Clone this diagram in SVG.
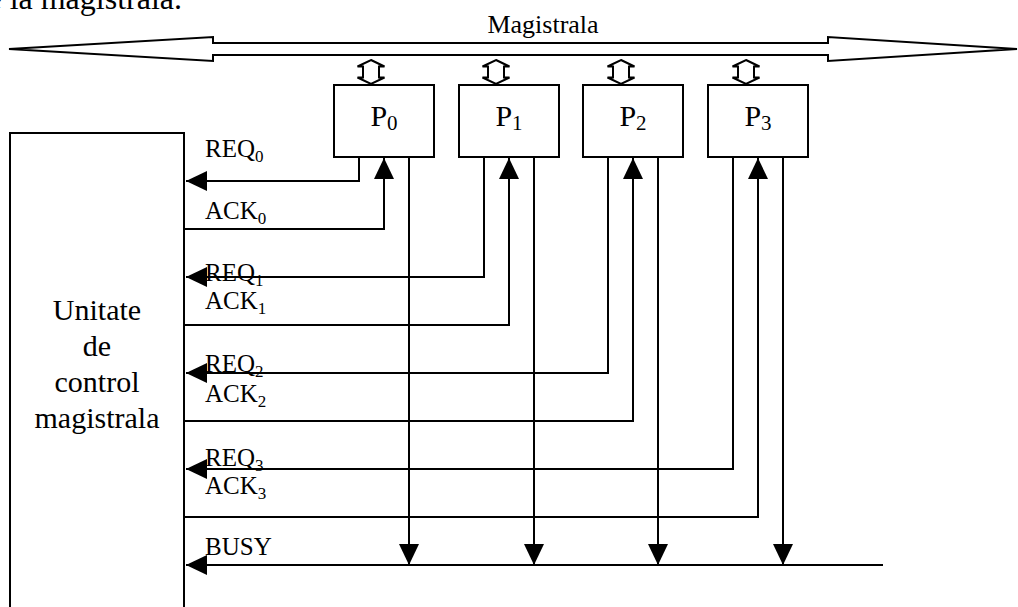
<svg xmlns="http://www.w3.org/2000/svg" width="1018" height="607" viewBox="0 0 1018 607">
<style>
  .ln { fill: none; stroke: #000; stroke-width: 2; }
  .box { fill: #fff; stroke: #000; stroke-width: 2; }
  .hollow { fill: #fff; stroke: #000; stroke-width: 2; stroke-linejoin: miter; }
  text { font-family: "Liberation Serif", "Times New Roman", serif; fill: #000; }
  .lbl { font-size: 25px; }
  .sub { font-size: 17px; }
  .pl { font-size: 30px; }
  .psub { font-size: 21px; }
  .big { font-size: 30px; }
</style>
<defs>
  <marker id="ah" viewBox="0 0 21 20" markerUnits="userSpaceOnUse" markerWidth="21" markerHeight="20" refX="21" refY="10" orient="auto">
    <path d="M0,0 L21,10 L0,20 Z" fill="#000"/>
  </marker>
  <path id="dbl" d="M0,-12 L13.5,-5.5 L8,-5.5 L8,5.5 L13.5,5.5 L0,12 L-13.5,5.5 L-8,5.5 L-8,-5.5 L-13.5,-5.5 Z"/>
</defs>
<rect width="1018" height="607" fill="#fff"/>

<text x="182" y="9" text-anchor="end" style="font-size:32px">e la magistrala.</text>

<g id="bus">
  <path class="hollow" d="M9,49 L213,37 L213,43 L828,43 L828,37 L1017,49 L828,61 L828,55 L213,55 L213,61 Z"/>
  <text x="543" y="33" text-anchor="middle" style="font-size:26px">Magistrala</text>
</g>

<g id="bus-links">
  <use href="#dbl" class="hollow" x="371" y="72"/>
  <use href="#dbl" class="hollow" x="496" y="72"/>
  <use href="#dbl" class="hollow" x="621" y="72"/>
  <use href="#dbl" class="hollow" x="746" y="72"/>
</g>

<g id="ucm">
  <rect class="box" x="10" y="133" width="174" height="500"/>
  <text class="big" text-anchor="middle" x="97" y="320">Unitate</text>
  <text class="big" text-anchor="middle" x="97" y="356">de</text>
  <text class="big" text-anchor="middle" x="97" y="392">control</text>
  <text class="big" text-anchor="middle" x="97" y="428">magistrala</text>
</g>

<g id="p0">
  <rect class="box" x="334" y="85" width="100" height="72"/>
  <text class="pl" x="384" y="126" text-anchor="middle">P<tspan class="psub" dy="4">0</tspan></text>
</g>
<g id="p1">
  <rect class="box" x="459" y="85" width="100" height="72"/>
  <text class="pl" x="509" y="126" text-anchor="middle">P<tspan class="psub" dy="4">1</tspan></text>
</g>
<g id="p2">
  <rect class="box" x="583" y="85" width="100" height="72"/>
  <text class="pl" x="633" y="126" text-anchor="middle">P<tspan class="psub" dy="4">2</tspan></text>
</g>
<g id="p3">
  <rect class="box" x="708" y="85" width="100" height="72"/>
  <text class="pl" x="758" y="126" text-anchor="middle">P<tspan class="psub" dy="4">3</tspan></text>
</g>

<g id="connectors">
  <path class="ln" d="M359,157 V181 H186" marker-end="url(#ah)"/>
  <path class="ln" d="M184,229 H384 V158" marker-end="url(#ah)"/>
  <path class="ln" d="M484,157 V277 H186" marker-end="url(#ah)"/>
  <path class="ln" d="M184,325 H509 V158" marker-end="url(#ah)"/>
  <path class="ln" d="M608,157 V373 H186" marker-end="url(#ah)"/>
  <path class="ln" d="M184,421 H633 V158" marker-end="url(#ah)"/>
  <path class="ln" d="M733,157 V469 H186" marker-end="url(#ah)"/>
  <path class="ln" d="M184,517 H758 V158" marker-end="url(#ah)"/>
  <path class="ln" d="M409,157 V565" marker-end="url(#ah)"/>
  <path class="ln" d="M534,157 V565" marker-end="url(#ah)"/>
  <path class="ln" d="M658,157 V565" marker-end="url(#ah)"/>
  <path class="ln" d="M783,157 V565" marker-end="url(#ah)"/>
  <path class="ln" d="M883,565 H186" marker-end="url(#ah)"/>
</g>

<g id="labels">
  <text class="lbl" x="205" y="157">REQ<tspan class="sub" dy="5">0</tspan></text>
  <text class="lbl" x="205" y="219">ACK<tspan class="sub" dy="5">0</tspan></text>
  <text class="lbl" x="205" y="281">REQ<tspan class="sub" dy="5">1</tspan></text>
  <text class="lbl" x="205" y="309">ACK<tspan class="sub" dy="5">1</tspan></text>
  <text class="lbl" x="205" y="372">REQ<tspan class="sub" dy="5">2</tspan></text>
  <text class="lbl" x="205" y="402">ACK<tspan class="sub" dy="5">2</tspan></text>
  <text class="lbl" x="205" y="466">REQ<tspan class="sub" dy="5">3</tspan></text>
  <text class="lbl" x="205" y="494">ACK<tspan class="sub" dy="5">3</tspan></text>
  <text class="lbl" x="205" y="555">BUSY</text>
</g>
</svg>
